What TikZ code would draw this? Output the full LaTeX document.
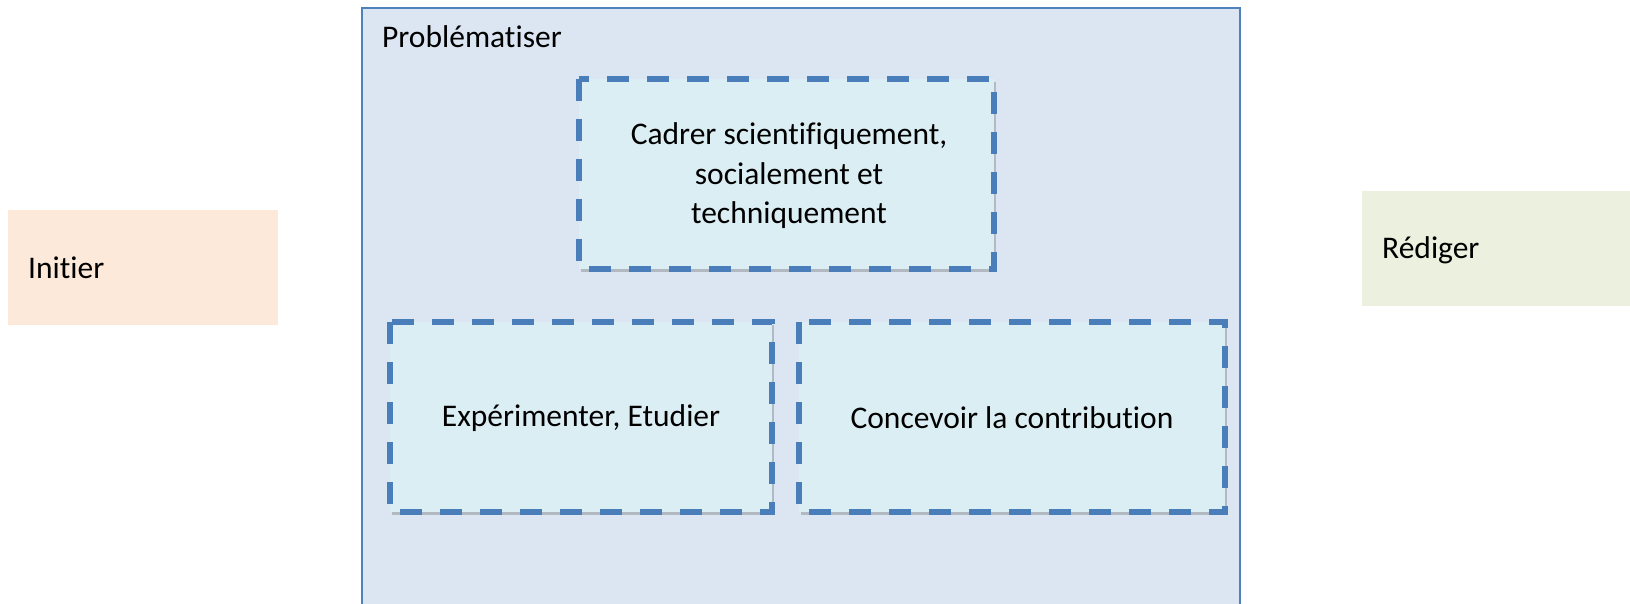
\documentclass[tikz,border=0pt]{standalone}
\usepackage{fontspec}
\setmainfont{Carlito}[Ligatures=NoCommon]
\usetikzlibrary{shadows}
\definecolor{outerfill}{HTML}{DCE6F2}
\definecolor{outerline}{HTML}{4F81BD}
\definecolor{innerfill}{HTML}{DBEEF4}
\definecolor{dashline}{HTML}{4A7EBB}
\definecolor{initfill}{HTML}{FDE9D9}
\definecolor{redfill}{HTML}{EBF1DE}
\tikzset{
  dashbox/.style={draw=dashline, fill=innerfill, line width=5.5pt,
    dash pattern=on 22pt off 18pt,
    drop shadow={shadow xshift=2pt, shadow yshift=-3pt, opacity=0.35, fill=black!60}},
  lbl/.style={font=\fontsize{31.5}{39.5}\selectfont, align=center, text=black, inner sep=0pt}
}
\begin{document}
\begin{tikzpicture}[x=1pt,y=-1pt]
\useasboundingbox (0,0) rectangle (1630,603);
% outer box
\path[fill=outerfill, draw=outerline, line width=2pt] (362,8) rectangle (1240,615);
\node[lbl, anchor=west] (prob) at (382,37) {Problématiser};
% side boxes
\path[fill=initfill] (8,210) rectangle (278,325);
\node[lbl, anchor=west] (init) at (28,268) {Initier};
\path[fill=redfill] (1362,191) rectangle (1640,306);
\node[lbl, anchor=west] (red) at (1382,250) {Rédiger};
% dashed boxes
\path[dashbox] (579,79) rectangle (994,269);
\node[lbl] (cad) at (789,176) {Cadrer scientifiquement,\\socialement et\\techniquement};
\path[dashbox] (390,322) rectangle (772,512);
\node[lbl] (exp) at (581,418) {Expérimenter, Etudier};
\path[dashbox] (799,322) rectangle (1225,512);
\node[lbl] (con) at (1012,418) {Concevoir la contribution};
\end{tikzpicture}
\end{document}
